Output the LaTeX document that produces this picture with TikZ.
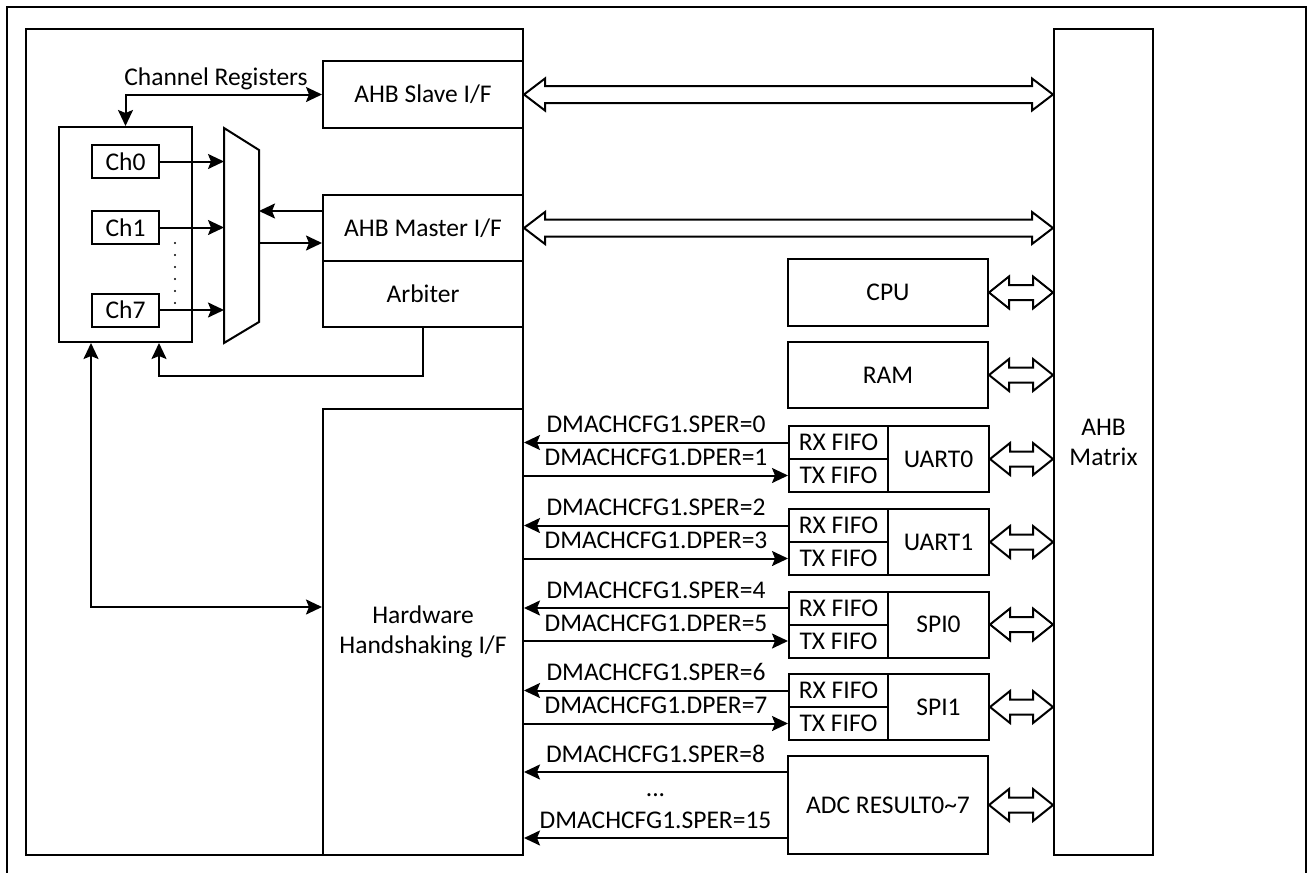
\documentclass[tikz,border=0pt]{standalone}
\usepackage{fontspec}
\setmainfont{Carlito}
\usetikzlibrary{arrows.meta,calc}
\tikzset{
  box/.style={draw, line width=2bp, inner sep=0pt, align=center, fill=white},
  conn/.style={line width=2bp},
  tipa/.tip={Stealth[length=16bp,width=15bp,inset=3bp]},
  arr/.style={conn, -tipa},
  barr/.style={conn, tipa-tipa},
  lbl/.style={inner sep=0pt, anchor=base},
}
\newcommand\blockarr[5]{%
  \draw[conn, fill=white, line join=miter] let \p1=#1, \p2=#2 in
    (\x1,\y1) -- (\x1+#5,\y1+#4) -- (\x1+#5,\y1+#3) -- (\x2-#5,\y1+#3) -- (\x2-#5,\y1+#4)
    -- (\x2,\y1) -- (\x2-#5,\y1-#4) -- (\x2-#5,\y1-#3) -- (\x1+#5,\y1-#3) -- (\x1+#5,\y1-#4) -- cycle;}
\begin{document}
\begin{tikzpicture}[x=1bp,y=-1bp, line width=2bp, every node/.append style={font=\fontsize{25.5bp}{30bp}\selectfont}]
\useasboundingbox (0,0) rectangle (1309,872);
% outer frame
\draw[conn] (7,890) -- (7,7) -- (1306,7) -- (1306,890);

% DMA block
\node[box, minimum width=497bp, minimum height=826bp] (dma) at (274.5,442) {};
\node[box, minimum width=200bp, minimum height=67bp] (slave) at (423,94.5) {AHB Slave I/F};
\node[box, minimum width=200bp, minimum height=66bp] (master) at (423,228) {AHB Master I/F};
\node[box, minimum width=200bp, minimum height=66bp] (arbiter) at (423,294) {Arbiter};
\node[box, minimum width=200bp, minimum height=446bp] (hs) at (423,632) {Hardware\\Handshaking I/F};

\node[box, minimum width=133bp, minimum height=215bp] (chbox) at (125.5,234.5) {};
\node[box, minimum width=67bp, minimum height=33bp] (ch0) at (125.5,161.5) {Ch0};
\node[box, minimum width=67bp, minimum height=33bp] (ch1) at (125.5,227.5) {Ch1};
\node[box, minimum width=67bp, minimum height=33bp] (ch7) at (125.5,310) {Ch7};
\foreach \yy in {243,255,...,303} \fill (175,\yy) circle (1.2);

% mux
\coordinate (mux-tl) at (224,128);
\coordinate (mux-tr) at (259,150);
\coordinate (mux-br) at (259,322);
\coordinate (mux-bl) at (224,343);
\draw[conn, line join=miter] (mux-tl) -- (mux-tr) -- (mux-br) -- (mux-bl) -- cycle;

\draw[arr] (ch0.east) -- (ch0.east -| mux-tl);
\draw[arr] (ch1.east) -- (ch1.east -| mux-tl);
\draw[arr] (ch7.east) -- (ch7.east -| mux-tl);
\draw[arr] ([yshift=17bp]master.west) -- ([yshift=17bp]master.west -| mux-tr);
\draw[arr] ([yshift=-15bp]master.west -| mux-tr) -- ([yshift=-15bp]master.west);

\node[lbl] (chreg) at (216,85) {Channel Registers};
\draw[barr] (chbox.north) |- (slave.west);

\coordinate (fb) at (159,376);
\draw[arr] (arbiter.south) |- (fb) -- (fb |- chbox.south);
\draw[barr] (ch0.west |- chbox.south) |- ([yshift=25bp]hs.west);

% AHB matrix
\node[box, minimum width=99bp, minimum height=826bp] (matrix) at (1103.5,442) {AHB\\Matrix};

\node[box, minimum width=200bp, minimum height=67bp] (cpu) at (888,292.5) {CPU};
\node[box, minimum width=200bp, minimum height=66bp] (ram) at (888,375) {RAM};

\foreach \nm/\tp/\lb/\sa/\da in {u0/425/UART0/0/1, u1/508/UART1/2/3, s0/590.5/SPI0/4/5, s1/673/SPI1/6/7}{
  \node[box, minimum width=99bp, minimum height=33bp, anchor=north west] (\nm rx) at (788,\tp) {RX FIFO};
  \node[box, minimum width=99bp, minimum height=33bp, anchor=north west] (\nm tx) at (788,\tp+33) {TX FIFO};
  \node[box, minimum width=101bp, minimum height=66bp, anchor=north west] (\nm) at (887,\tp) {\lb};
  \draw[arr] (\nm rx.west) -- (\nm rx.west -| dma.east)
     node[lbl, midway, yshift=10bp] (\nm sl) {DMACHCFG1.SPER=\sa};
  \draw[arr] (\nm tx.west -| dma.east) -- (\nm tx.west)
     node[lbl, midway, yshift=10bp] (\nm dl) {DMACHCFG1.DPER=\da};
  \blockarr{(\nm.east)}{(matrix.west |- \nm.east)}{7.5bp}{16bp}{20bp}
}

\node[box, minimum width=200bp, minimum height=98bp] (adc) at (888,805) {ADC RESULT0\textasciitilde 7};
\draw[arr] ([yshift=33bp]adc.west) -- ([yshift=33bp]adc.west -| dma.east)
   node[lbl, midway, yshift=10bp] (al8) {DMACHCFG1.SPER=8};
\draw[arr] ([yshift=-33bp]adc.west) -- ([yshift=-33bp]adc.west -| dma.east)
   node[lbl, midway, yshift=10bp] (al15) {DMACHCFG1.SPER=15};
\node[lbl] (adots) at (655.5,796) {...};

% block arrows
\blockarr{(slave.east)}{(matrix.west |- slave.east)}{8.5bp}{16bp}{21bp}
\blockarr{(master.east)}{(matrix.west |- master.east)}{8.5bp}{16bp}{21bp}
\blockarr{(cpu.east)}{(matrix.west |- cpu.east)}{7.5bp}{16bp}{20bp}
\blockarr{(ram.east)}{(matrix.west |- ram.east)}{7.5bp}{16bp}{20bp}
\blockarr{(adc.east)}{(matrix.west |- adc.east)}{7.5bp}{16bp}{20bp}
\end{tikzpicture}
\end{document}
